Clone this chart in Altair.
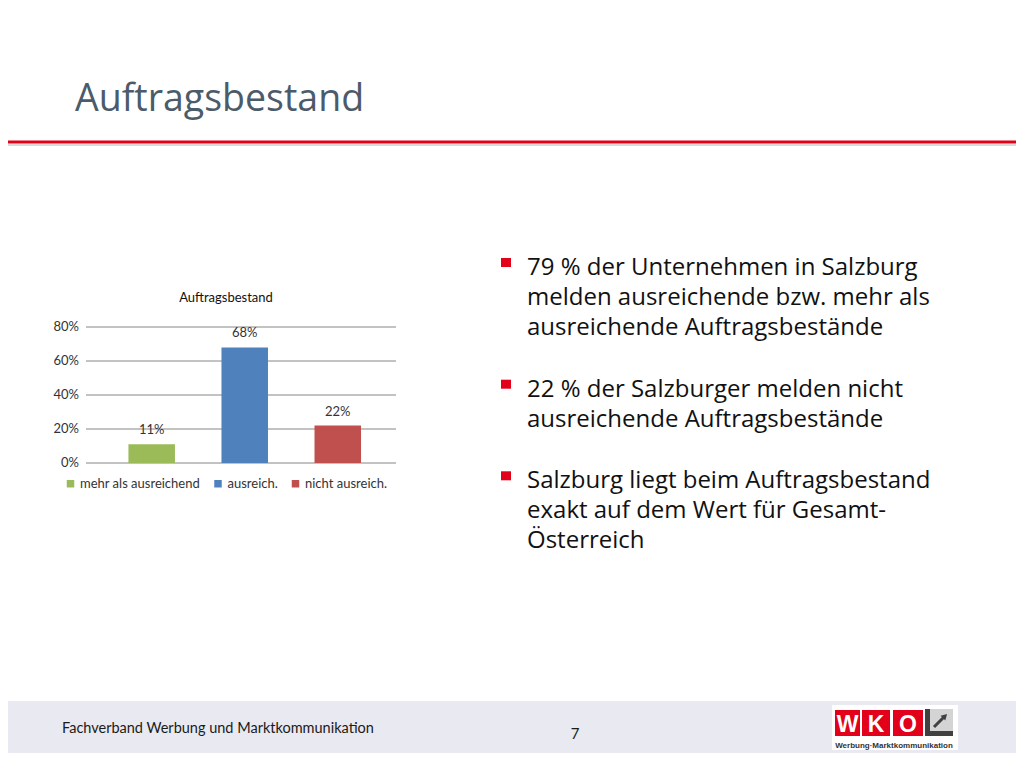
import altair as alt
import pandas as pd

# ---- data ----
categories = ["mehr als ausreichend", "ausreich.", "nicht ausreich."]
values = [0.11, 0.68, 0.22]
value_labels = ["11%", "68%", "22%"]
bar_colors = ["#9BBB59", "#4F81BD", "#C0504D"]
y_ticks = [0, 0.2, 0.4, 0.6, 0.8]
y_tick_labels = ["0%", "20%", "40%", "60%", "80%"]

slide_title = "Auftragsbestand"
chart_title = "Auftragsbestand"
bullets = [
    "79 % der Unternehmen in Salzburg\nmelden ausreichende bzw. mehr als\nausreichende Auftragsbestände",
    "22 % der Salzburger melden nicht\nausreichende Auftragsbestände",
    "Salzburg liegt beim Auftragsbestand\nexakt auf dem Wert für Gesamt-\nÖsterreich",
]
footer_text = "Fachverband Werbung und Marktkommunikation"
page_number = "7"
logo_letters = ["W", "K", "O"]
logo_caption = "Werbung·Marktkommunikation"

df = pd.DataFrame({"category": categories, "value": values, "label": value_labels})
ticks_df = pd.DataFrame({"value": y_ticks, "tlabel": y_tick_labels})
one = pd.DataFrame({"k": [0]})

# plot origin on the page (slide coordinates)
PX0, PY0 = 89, 327
PW, PH = 307, 136
CANVAS_W, CANVAS_H = 1008, 752


def X(sx):
    return sx - PX0


def Y(sy):
    return sy - PY0


FONT = "Lato"
SLIDE_FONT = "Open Sans"
GRID = "#868686"


def rect(x1, x2, y1, y2, color, **kw):
    return alt.Chart(one).mark_rect(color=color, **kw).encode(
        x=alt.value(X(x1)), x2=alt.value(X(x2)), y=alt.value(Y(y1)), y2=alt.value(Y(y2))
    )


def text(t, sx, sy, **kw):
    return alt.Chart(one).mark_text(text=t, **kw).encode(x=alt.value(X(sx)), y=alt.value(Y(sy)))


layers = []
# footer band
layers.append(rect(0, 1024, 701, 753, "#E8E9F1"))
# title rule
layers.append(rect(0, 1024, 144, 146, "#DADADA"))
layers.append(rect(0, 1024, 140.5, 143.5, "#E2001A"))
# slide title
layers.append(text(slide_title, 75, 111, font=SLIDE_FONT, fontSize=37.5, color="#4B5B6A",
                   align="left", baseline="alphabetic"))

# chart scales
yscale = alt.Scale(domain=[0, 0.8], nice=False)
xenc = alt.X("category:N", sort=categories, axis=None,
             scale=alt.Scale(paddingInner=0.5, paddingOuter=0.4, align=0.53))
yenc = alt.Y("value:Q", scale=yscale, axis=None)

# gridlines, ticks and tick labels (value axis)
grid = alt.Chart(ticks_df).mark_rule(color=GRID, strokeWidth=1).encode(
    y=yenc, x=alt.value(-3), x2=alt.value(PW))
tick_text = alt.Chart(ticks_df).mark_text(font=FONT, fontSize=13, color="#333333",
                                          align="right", baseline="middle").encode(
    y=yenc, x=alt.value(-10), text="tlabel:N")
layers += [grid, tick_text]

bars = alt.Chart(df).mark_bar().encode(
    x=xenc, y=yenc,
    color=alt.Color("category:N",
                    scale=alt.Scale(domain=categories, range=bar_colors),
                    legend=alt.Legend(orient="none", legendX=X(64), legendY=Y(477),
                                      direction="horizontal", title=None,
                                      symbolType="square", symbolSize=56,
                                      symbolStrokeWidth=0, labelFont=FONT,
                                      labelFontSize=13, labelColor="#333333",
                                      labelOffset=3, columnPadding=10.5, padding=0)),
)
labels = alt.Chart(df).mark_text(font=FONT, fontSize=13, color="#333333", dy=-14,
                                 baseline="middle").encode(
    x=xenc, y=yenc, text="label:N")
layers += [bars, labels]
layers.append(text(chart_title, 226, 298, font=FONT, fontSize=13, color="#111111",
                   align="center", baseline="middle"))

# bullets
bullet_baselines = [275, 396.7, 488.3]
for t, b in zip(bullets, bullet_baselines):
    layers.append(rect(501, 511, b - 17, b - 8, "#E2001A"))
    layers.append(text(t, 527, b, font=SLIDE_FONT, fontSize=24, color="#111111",
                       align="left", baseline="alphabetic", lineBreak="\n", lineHeight=30))

# footer
layers.append(text(footer_text, 62, 733, font=FONT, fontSize=14.5, color="#1A1A1A",
                   align="left", baseline="alphabetic"))
layers.append(text(page_number, 575, 739, font=FONT, fontSize=15, color="#1A1A1A",
                   align="center", baseline="alphabetic"))

# logo
layers.append(rect(832, 958, 705, 750, "#FFFFFF"))
for (x1, x2), letter in zip([(835, 860), (862, 890), (893, 923)], logo_letters):
    layers.append(rect(x1, x2, 710, 736, "#E2001A"))
    layers.append(text(letter, (x1 + x2) / 2, 732, font="Liberation Sans", fontWeight="bold",
                       fontSize=23, color="#FFFFFF", align="center", baseline="alphabetic"))
layers.append(rect(925, 953, 709, 736, "#D4D4D4"))
layers.append(rect(925, 930, 709, 736, "#404040"))
layers.append(rect(925, 953, 731, 736, "#404040"))
layers.append(alt.Chart(one).mark_rule(color="#404040", strokeWidth=3).encode(
    x=alt.value(X(934)), y=alt.value(Y(727)), x2=alt.value(X(944)), y2=alt.value(Y(717))))
layers.append(alt.Chart(one).mark_point(shape="triangle-up", filled=True, size=45,
                                        angle=45, color="#404040", opacity=1).encode(
    x=alt.value(X(945)), y=alt.value(Y(716))))
layers.append(text(logo_caption, 894, 747.5, font="Liberation Sans", fontWeight="bold",
                   fontSize=8, color="#333333", align="center", baseline="alphabetic"))

chart = alt.layer(*layers).properties(
    width=PW, height=PH,
    autosize=alt.AutoSizeParams(type="none"),
    padding={"left": PX0 - 8, "top": PY0 - 8, "right": CANVAS_W - (PX0 - 8) - PW,
             "bottom": CANVAS_H - (PY0 - 8) - PH},
    background="#FFFFFF",
).configure_view(stroke=None)

chart.save("out.html", embed_options={"renderer": "svg", "actions": False})
